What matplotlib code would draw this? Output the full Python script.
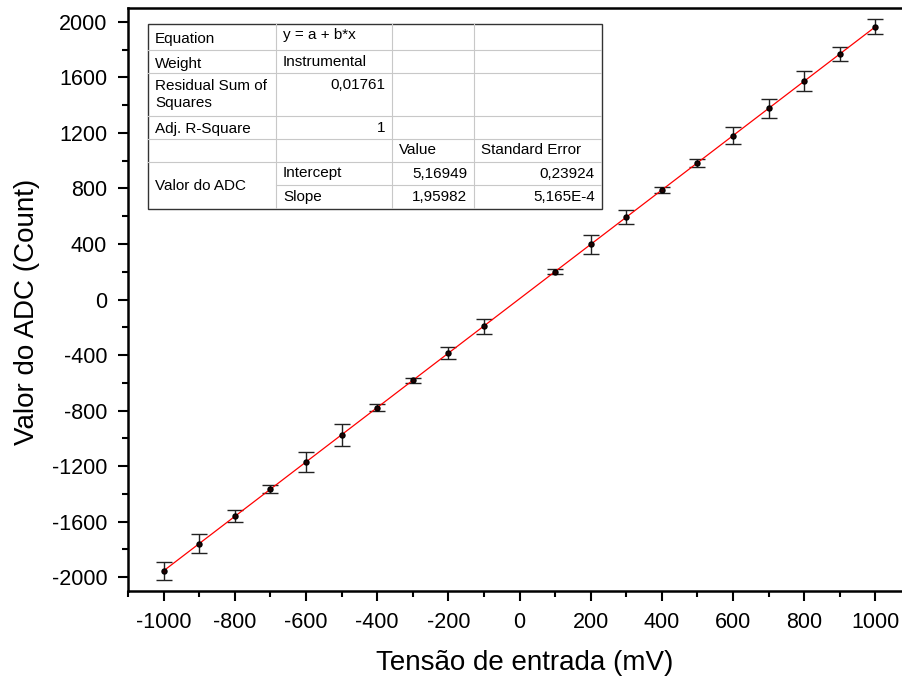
import matplotlib
matplotlib.use("Agg")
import matplotlib.pyplot as plt
from matplotlib.ticker import MultipleLocator
import numpy as np

plt.rcParams['font.family'] = ['Liberation Sans', 'DejaVu Sans']
plt.rcParams['axes.unicode_minus'] = False

# ---- data ----
tensao_mv = [-1000, -900, -800, -700, -600, -500, -400, -300, -200, -100,
             100, 200, 300, 400, 500, 600, 700, 800, 900, 1000]
valor_adc = [-1955, -1759, -1563, -1367, -1172, -975, -779, -583, -387, -191,
             201, 397, 593, 789, 985, 1181, 1377, 1573, 1769, 1965]
erro_adc = [65, 68, 43, 30, 73, 77, 25, 19, 44, 54,
            19, 67, 50, 22, 29, 60, 70, 71, 49, 55]

fit_intercept = 5.16949
fit_slope = 1.95982

table_rows = [
    ["Equation", "y = a + b*x", "", ""],
    ["Weight", "Instrumental", "", ""],
    ["Residual Sum of\nSquares", "0,01761", "", ""],
    ["Adj. R-Square", "1", "", ""],
    ["", "", "Value", "Standard Error"],
    ["Valor do ADC", "Intercept", "5,16949", "0,23924"],
    ["", "Slope", "1,95982", "5,165E-4"],
]

W, H = 902, 680
fig = plt.figure(figsize=(W / 100, H / 100), dpi=100)

left, right, top, bottom = 128, 911, 8, 591
ax = fig.add_axes([left / W, 1 - bottom / H, (right - left) / W, (bottom - top) / H])

ax.errorbar(tensao_mv, valor_adc, yerr=erro_adc, fmt='none', ecolor='#222222',
            elinewidth=1.0, capsize=6, capthick=1.0, zorder=2)
xfit = np.array([tensao_mv[0], tensao_mv[-1]])
ax.plot(xfit, fit_intercept + fit_slope * xfit, color='#ff0000', lw=0.9, zorder=3)
ax.plot(tensao_mv, valor_adc, 'o', color='#000000', mfc='#200000', ms=3.6, zorder=4)

ax.set_xlim(-1100, 1100)
ax.set_ylim(-2100, 2100)
ax.xaxis.set_major_locator(MultipleLocator(200))
ax.xaxis.set_minor_locator(MultipleLocator(100))
ax.yaxis.set_major_locator(MultipleLocator(400))
ax.yaxis.set_minor_locator(MultipleLocator(200))
ax.tick_params(which='major', direction='out', length=7, width=1.5, labelsize=15.5, pad=8)
ax.tick_params(which='minor', direction='out', length=4, width=1.5)
ax.tick_params(axis='x', which='both', top=False)
ax.tick_params(axis='y', which='both', right=False)
for s in ax.spines.values():
    s.set_linewidth(1.8)

ax.set_xlabel("Tensão de entrada (mV)", fontsize=20, labelpad=12, x=0.506)
ax.set_ylabel("Valor do ADC (Count)", fontsize=20, labelpad=8, y=0.478)

# ---- parameter table drawn in pixel coordinates ----
tx0, ty0, tx1, ty1 = 148, 24, 602, 209
tax = fig.add_axes([tx0 / W, 1 - ty1 / H, (tx1 - tx0) / W, (ty1 - ty0) / H])
tax.set_xlim(0, tx1 - tx0)
tax.set_ylim(ty1 - ty0, 0)
tax.axis('off')
tax.add_patch(plt.Rectangle((0, 0), tx1 - tx0, ty1 - ty0, facecolor='white',
                            edgecolor='#333333', lw=1.0, zorder=1, clip_on=False))
cols = [0, 128, 244, 326, 454]
rows = [0, 26, 49, 92, 115, 138, 161, 185]
grid_c = '#c8c8c8'
for c in cols[1:-1]:
    tax.plot([c, c], [0, rows[-1]], color=grid_c, lw=0.8, zorder=2)
for i, r in enumerate(rows[1:-1], start=1):
    x_start = cols[1] if i == 6 else 0
    tax.plot([x_start, cols[-1]], [r, r], color=grid_c, lw=0.8, zorder=2)

fs = 11
pad = 7
for i, row in enumerate(table_rows):
    ytop = rows[i]
    ymid = (rows[i] + rows[i + 1]) / 2
    for j, txt in enumerate(row):
        if not txt:
            continue
        if j == 0:
            if txt == "Valor do ADC":
                y = (rows[5] + rows[7]) / 2
                tax.text(pad, y, txt, ha='left', va='center', fontsize=fs, zorder=3)
            elif i == 2:
                tax.text(pad, ytop + 6, txt, ha='left', va='top', fontsize=fs,
                         linespacing=1.25, zorder=3)
            else:
                tax.text(pad, ymid + 2, txt, ha='left', va='center', fontsize=fs, zorder=3)
        else:
            right_align = txt[0].isdigit()
            if i in (2, 3):
                y, va = ytop + 5, 'top'
            elif i == 0:
                y, va = ymid - 2, 'center'
            else:
                y, va = ymid, 'center'
            if right_align:
                tax.text(cols[j + 1] - pad, y, txt, ha='right', va=va, fontsize=fs, zorder=3)
            else:
                tax.text(cols[j] + pad, y, txt, ha='left', va=va, fontsize=fs, zorder=3)

fig.savefig("out.png", dpi=100)
